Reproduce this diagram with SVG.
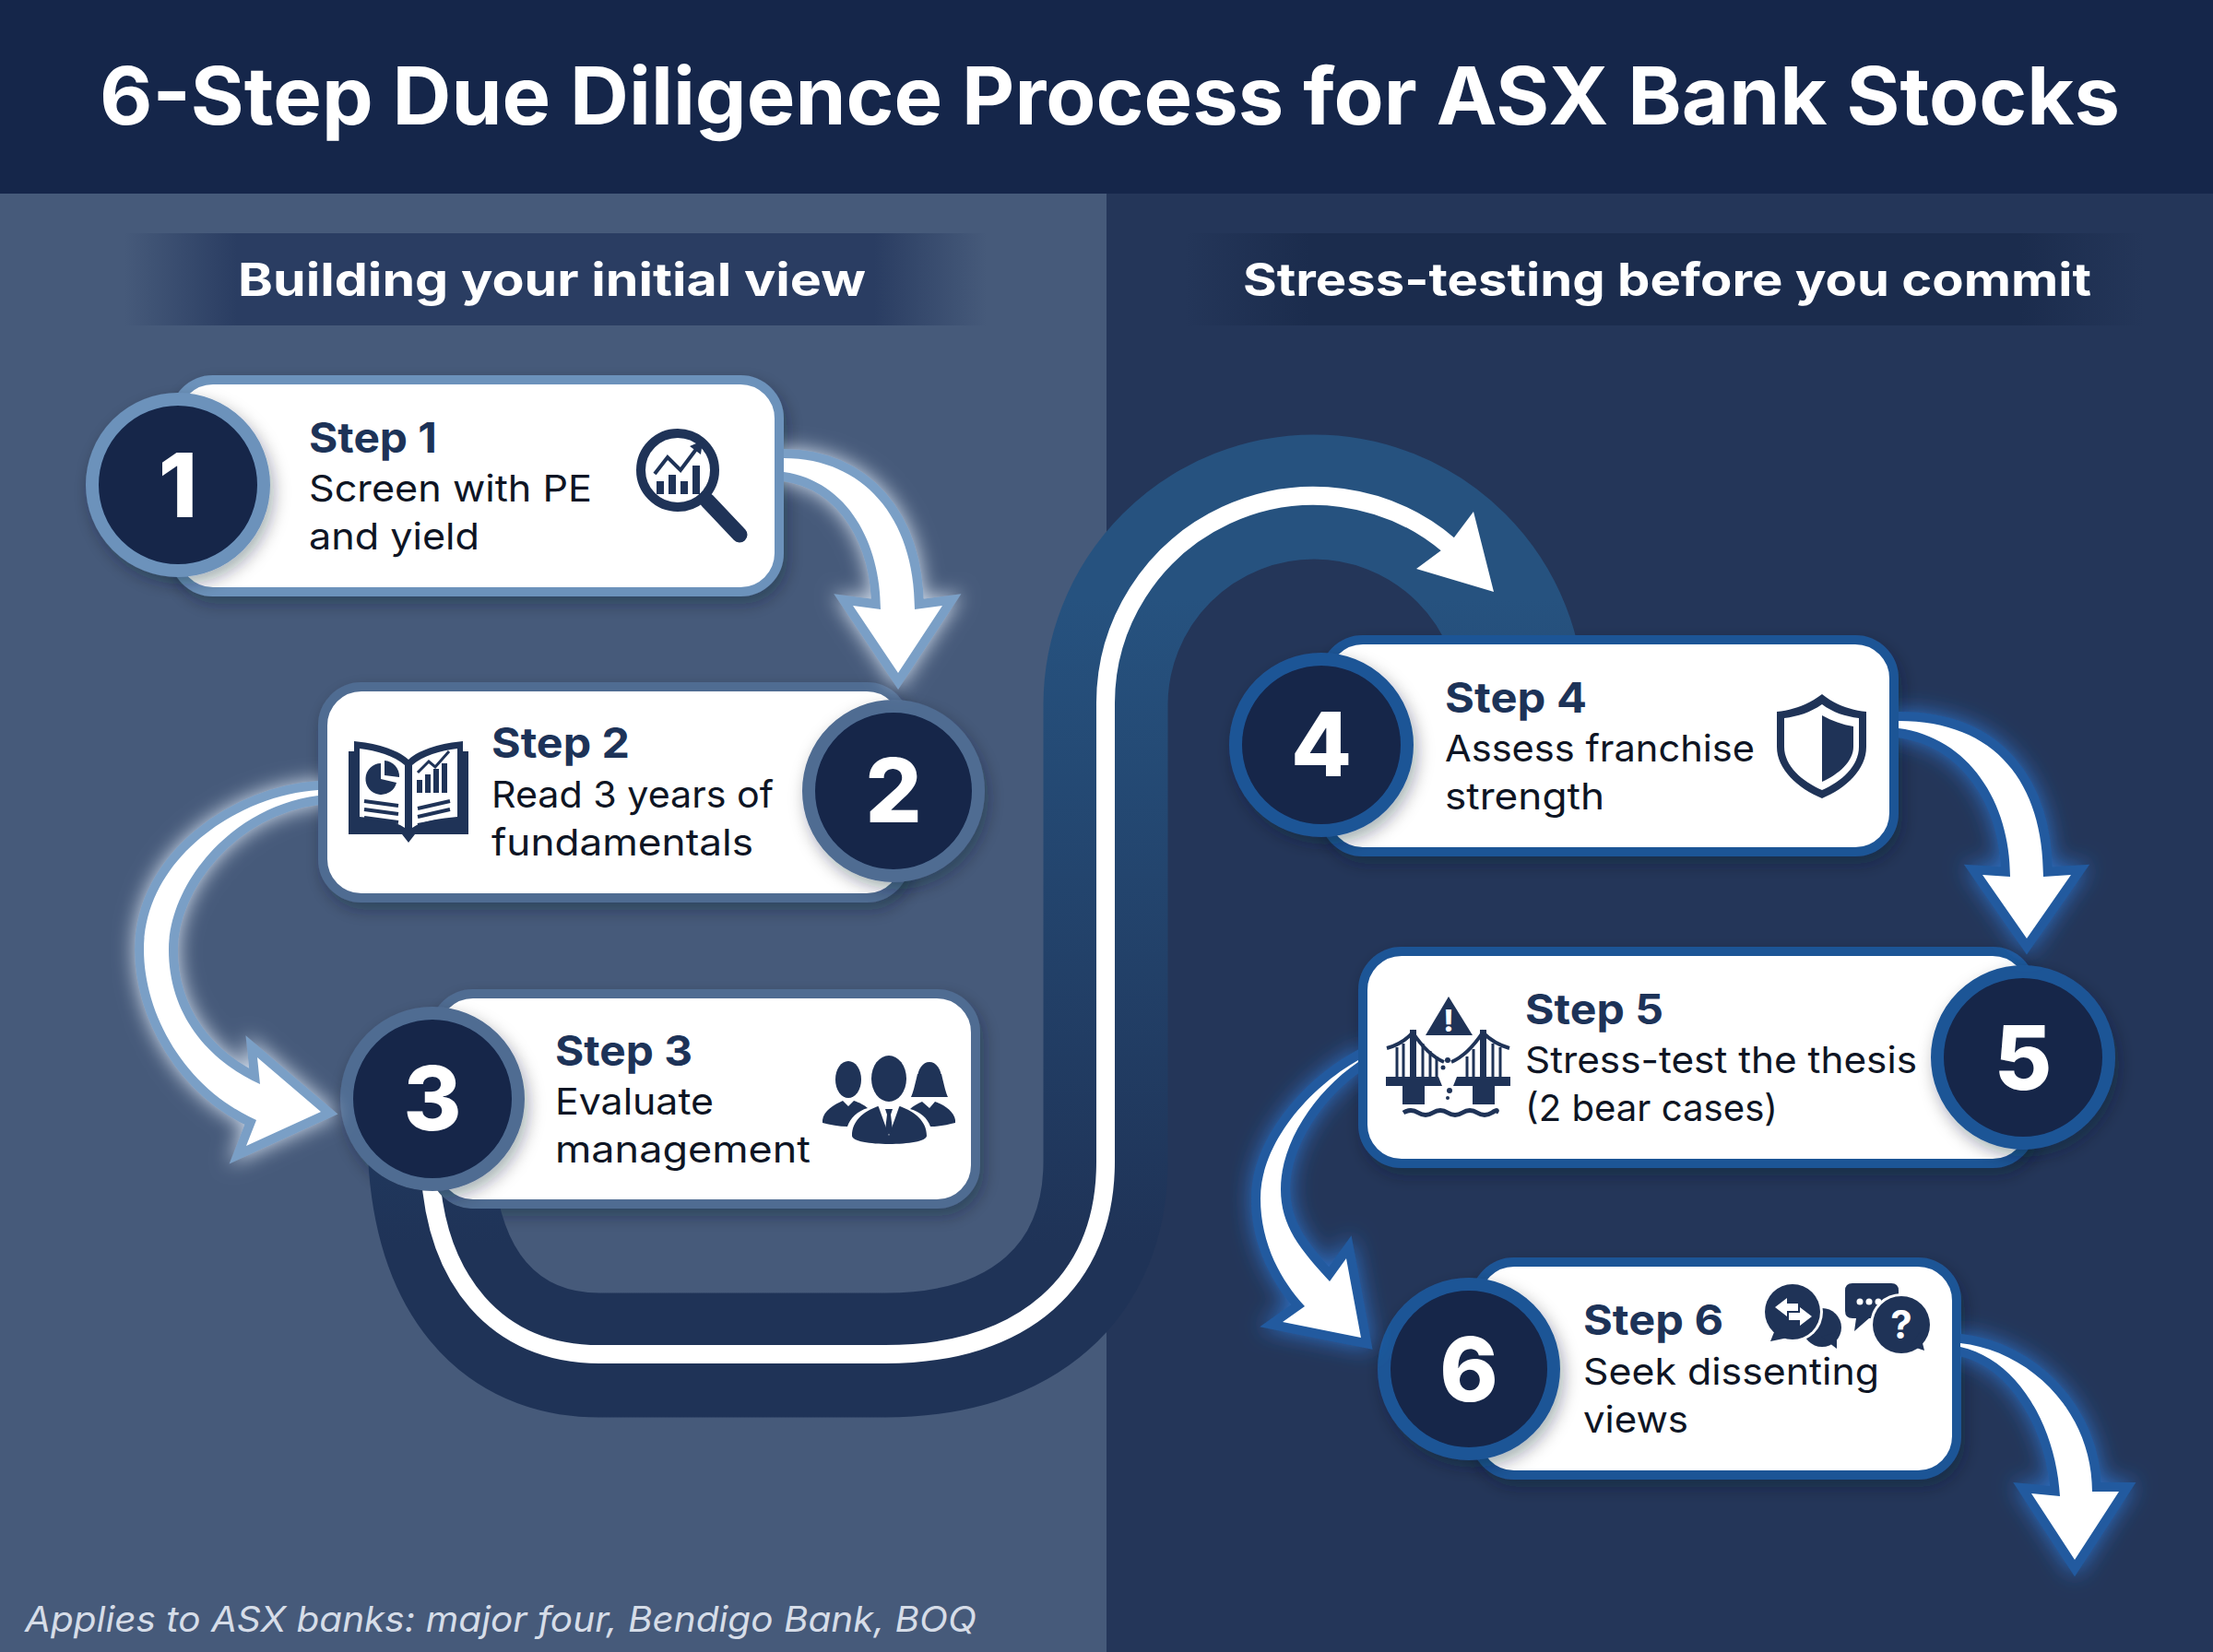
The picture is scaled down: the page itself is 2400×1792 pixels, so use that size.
<svg xmlns="http://www.w3.org/2000/svg" width="2400" height="1792" viewBox="0 0 2400 1792">
<style>
text{font-family:"Inter","Liberation Sans",sans-serif}
.title{font-size:86px;font-weight:700;fill:#fff}
.band{font-size:50px;font-weight:700;fill:#fff}
.st{font-size:45px;font-weight:700;fill:#1d3358}
.bd{font-size:40px;font-weight:400;fill:#0e1524}
.num{font-size:96px;font-weight:800;fill:#fff;text-anchor:middle}
.foot{font-size:38px;font-style:italic;fill:#d6dde8}
.card{fill:#fff;stroke-width:10;filter:url(#sh)}
.disc{fill:#14264a;stroke-width:14;filter:url(#sh)}
.c1{stroke:#6c92bb}.c2{stroke:#506c92}.c3{stroke:#1f5596}
.ic{fill:#1f3357}
.icl{fill:none;stroke:#1f3357}
.aw{fill:#fff;stroke-width:20;stroke-linejoin:miter;stroke-miterlimit:12;paint-order:stroke}
.al{stroke:#7a9fc6;filter:url(#gl)}
.ar{stroke:#205a9f;filter:url(#gr)}
</style>
<defs>
<filter id="sh" x="-20%" y="-20%" width="140%" height="150%"><feDropShadow dx="4" dy="8" stdDeviation="9" flood-color="#0a1428" flood-opacity=".35"/></filter>
<filter id="gl" x="-30%" y="-30%" width="160%" height="160%"><feDropShadow dx="0" dy="0" stdDeviation="11" flood-color="#e3eefb" flood-opacity=".9"/></filter>
<filter id="gr" x="-30%" y="-30%" width="160%" height="160%"><feDropShadow dx="0" dy="0" stdDeviation="12" flood-color="#2f7fe0" flood-opacity=".8"/></filter>
<linearGradient id="bl" x1="0" x2="1" y1="0" y2="0"><stop offset="0" stop-color="#2a3d62" stop-opacity="0"/><stop offset=".13" stop-color="#2a3d62"/><stop offset=".87" stop-color="#2a3d62"/><stop offset="1" stop-color="#2a3d62" stop-opacity="0"/></linearGradient>
<linearGradient id="br" x1="0" x2="1" y1="0" y2="0"><stop offset="0" stop-color="#1b2c4d" stop-opacity="0"/><stop offset=".13" stop-color="#1b2c4d"/><stop offset=".87" stop-color="#1b2c4d"/><stop offset="1" stop-color="#1b2c4d" stop-opacity="0"/></linearGradient>
<linearGradient id="trk" gradientUnits="userSpaceOnUse" x1="0" y1="1350" x2="0" y2="650"><stop offset="0" stop-color="#1f3357"/><stop offset="1" stop-color="#26527f"/></linearGradient>
<mask id="mS" maskUnits="userSpaceOnUse" x="0" y="0" width="2400" height="1792"><rect width="2400" height="1792" fill="#fff"/><rect x="466" y="1073" width="597" height="238" rx="46" fill="#000"/><circle cx="469" cy="1192" r="100" fill="#000"/><rect x="1431" y="689" width="628" height="240" rx="46" fill="#000"/></mask>
<clipPath id="k12"><rect x="850" y="400" width="400" height="400"/></clipPath>
<clipPath id="k23"><path d="M60 780H345V1100H420V1340H60Z"/></clipPath>
<clipPath id="k45"><rect x="2059" y="700" width="300" height="400"/></clipPath>
<clipPath id="k56"><path d="M1300 1100H1473V1290H1540V1520H1300Z"/></clipPath>
<clipPath id="k6"><rect x="2126" y="1400" width="270" height="390"/></clipPath>
</defs>

<g id="background">
<rect width="2400" height="1792" fill="#243659"/>
<rect x="0" y="210" width="1200" height="1582" fill="#465a7a"/>
<rect width="2400" height="210" fill="#15264a"/>
<text class="title" x="108" y="135" textLength="2191" lengthAdjust="spacingAndGlyphs">6-Step Due Diligence Process for ASX Bank Stocks</text>
<rect x="135" y="253" width="935" height="100" fill="url(#bl)"/>
<rect x="1285" y="253" width="1040" height="100" fill="url(#br)"/>
<text class="band" x="258" y="321" textLength="681" lengthAdjust="spacingAndGlyphs">Building your initial view</text>
<text class="band" x="1348" y="321" textLength="920" lengthAdjust="spacingAndGlyphs">Stress-testing before you commit</text>
<text class="foot" x="27" y="1770" textLength="1032" lengthAdjust="spacingAndGlyphs">Applies to ASX banks: major four, Bendigo Bank, BOQ</text>
</g>

<g id="node-1">
<rect class="card c1" x="189" y="412" width="656" height="230" rx="42"/>
<circle class="disc c1" cx="193" cy="526" r="93"/>
<text class="num" x="193" y="561">1</text>
<text class="st" x="335" y="491" textLength="139" lengthAdjust="spacingAndGlyphs">Step 1</text>
<text class="bd" x="335" y="544" textLength="307" lengthAdjust="spacingAndGlyphs">Screen with PE</text>
<text class="bd" x="335" y="596" textLength="185" lengthAdjust="spacingAndGlyphs">and yield</text>
<circle class="icl" cx="735" cy="510" r="40" stroke-width="10"/>
<path class="icl" d="M767 543L802 580" stroke-width="17" stroke-linecap="round"/>
<path class="ic" d="M712 522h8v14h-8zM725 515h8v21h-8zM738 522h8v14h-8zM751 505h8v31h-8z"/>
<path class="icl" d="M710 514L724 496L738 510L756 486" stroke-width="4"/>
<path class="ic" d="M748 484L762 478L760 493Z"/>
</g>

<g id="node-2">
<rect class="card c2" x="350" y="745" width="632" height="229" rx="42"/>
<circle class="disc c2" cx="969" cy="858" r="92"/>
<text class="num" x="969" y="892">2</text>
<text class="st" x="533" y="822" textLength="150" lengthAdjust="spacingAndGlyphs">Step 2</text>
<text class="bd" x="533" y="876" textLength="306" lengthAdjust="spacingAndGlyphs">Read 3 years of</text>
<text class="bd" x="533" y="928" textLength="284" lengthAdjust="spacingAndGlyphs">fundamentals</text>
<path class="ic" d="M384 804C405 806 430 812 443 824C456 812 481 806 502 804V815H508V905H450L443 914L436 905H378V815H384Z"/>
<path fill="#fff" d="M390 812C408 814 428 820 439 830V898C428 890 408 888 390 886ZM496 812C478 814 458 820 447 830V898C458 890 478 888 496 886Z"/>
<path class="ic" d="M413 828A17 17 0 1 0 430 849L413 845Z"/><path class="ic" d="M417 825A17 17 0 0 1 433 843L417 841Z"/>
<path class="ic" d="M452 860h6v-14h-6zM461 860h6v-20h-6zM470 860h6v-26h-6zM479 860h6v-32h-6z"/>
<path class="icl" d="M453 838L465 826L472 832L487 815" stroke-width="3"/>
<path class="icl" d="M395 869L432 874M395 878L432 883M395 887L432 892M453 877L488 869M453 886L488 878M453 895L475 891" stroke-width="4"/>
</g>

<g id="node-3">
<rect class="card c2" x="471" y="1078" width="587" height="228" rx="42"/>
<circle class="disc c2" cx="469" cy="1192" r="93"/>
<text class="num" x="469" y="1226">3</text>
<text class="st" x="602" y="1156" textLength="149" lengthAdjust="spacingAndGlyphs">Step 3</text>
<text class="bd" x="602" y="1209" textLength="172" lengthAdjust="spacingAndGlyphs">Evaluate</text>
<text class="bd" x="602" y="1261" textLength="277" lengthAdjust="spacingAndGlyphs">management</text>
<ellipse class="ic" cx="920" cy="1171" rx="14" ry="20"/>
<path class="ic" d="M892 1215C893 1205 905 1198 914 1194L920 1200L926 1194C932 1196 938 1199 941 1202C930 1205 922 1213 919 1222C910 1222 900 1220 892 1218Z"/>
<ellipse class="ic" cx="1008" cy="1170" rx="13" ry="18"/><path class="ic" d="M995 1165C992 1178 990 1186 988 1190H1028C1026 1186 1024 1178 1021 1165Z"/>
<path class="ic" d="M1036 1215C1035 1206 1024 1198 1014 1195L1008 1202L1000 1195C995 1197 990 1200 987 1203C998 1206 1006 1213 1009 1222C1018 1222 1028 1220 1036 1218Z"/>
<ellipse class="ic" cx="964" cy="1170" rx="19" ry="25"/>
<path class="ic" d="M924 1232C924 1216 936 1206 952 1200L958 1204H970L976 1200C992 1206 1005 1216 1005 1232C1005 1238 985 1241 964 1241C944 1241 924 1238 924 1232Z"/>
<path fill="#fff" d="M953 1201L964 1232L975 1201L970 1198H958Z"/>
<path class="ic" d="M960 1203H968L966 1209L968 1226L964 1231L960 1226L962 1209Z"/>
</g>

<g id="node-4">
<rect class="card c3" x="1436" y="694" width="618" height="230" rx="42"/>
<circle class="disc c3" cx="1433" cy="808" r="93"/>
<text class="num" x="1433" y="842">4</text>
<text class="st" x="1567" y="773" textLength="154" lengthAdjust="spacingAndGlyphs">Step 4</text>
<text class="bd" x="1567" y="826" textLength="336" lengthAdjust="spacingAndGlyphs">Assess franchise</text>
<text class="bd" x="1567" y="878" textLength="173" lengthAdjust="spacingAndGlyphs">strength</text>
<path class="ic" d="M1976 753C1960 765 1945 770 1927 772V810C1927 835 1950 855 1976 866C2002 855 2024 835 2024 810V772C2006 770 1991 765 1976 753Z"/>
<path fill="#fff" d="M1976 764C1963 773 1950 777 1935 779V810C1935 831 1955 848 1976 857C1997 848 2016 831 2016 810V779C2001 777 1988 773 1976 764Z"/>
<path class="ic" d="M1976 776C1987 782 1998 786 2010 788V810C2010 826 1994 840 1976 848Z"/>
</g>

<g id="node-5">
<rect class="card c3" x="1478" y="1032" width="725" height="230" rx="42"/>
<circle class="disc c3" cx="2194" cy="1147" r="93"/>
<text class="num" x="2194" y="1182">5</text>
<text class="st" x="1654" y="1111" textLength="150" lengthAdjust="spacingAndGlyphs">Step 5</text>
<text class="bd" x="1654" y="1164" textLength="425" lengthAdjust="spacingAndGlyphs">Stress-test the thesis</text>
<text class="bd" x="1654" y="1216" textLength="274" lengthAdjust="spacingAndGlyphs">(2 bear cases)</text>
<path class="ic" d="M1571 1081L1597 1123H1546Z"/>
<text x="1571" y="1119" font-size="32" font-weight="800" fill="#fff" text-anchor="middle">!</text>
<path class="ic" d="M1503 1168H1560L1564 1178H1545V1198H1521V1178H1503ZM1638 1168H1580L1576 1178H1597V1198H1621V1178H1638Z"/>
<path class="ic" d="M1529 1117h7v51h-7zM1605 1117h7v51h-7z"/>
<path class="icl" d="M1504 1137C1515 1134 1525 1128 1532 1120C1540 1132 1552 1146 1566 1152M1637 1137C1626 1134 1616 1128 1608 1120C1600 1132 1588 1146 1574 1152" stroke-width="4"/>
<path class="icl" d="M1515 1136V1168M1522 1132V1168M1543 1132V1168M1551 1140V1168M1558 1146V1168M1591 1146V1168M1598 1138V1168M1619 1132V1168M1627 1136V1168" stroke-width="3"/>
<circle class="ic" cx="1570" cy="1150" r="3"/><circle class="ic" cx="1565" cy="1158" r="2.5"/><circle class="ic" cx="1572" cy="1183" r="3"/><circle class="ic" cx="1570" cy="1191" r="2"/>
<path class="icl" d="M1522 1207q8-5 16 0t16 0t16 0t16 0t16 0t16 0t4 0" stroke-width="5"/>
</g>

<g id="node-6">
<rect class="card c3" x="1600" y="1369" width="522" height="231" rx="42"/>
<circle class="disc c3" cx="1593" cy="1485" r="92"/>
<text class="num" x="1593" y="1520">6</text>
<text class="st" x="1717" y="1448" textLength="152" lengthAdjust="spacingAndGlyphs">Step 6</text>
<text class="bd" x="1717" y="1502" textLength="321" lengthAdjust="spacingAndGlyphs">Seek dissenting</text>
<text class="bd" x="1717" y="1554" textLength="114" lengthAdjust="spacingAndGlyphs">views</text>
<circle class="ic" cx="1976" cy="1440" r="21"/><path class="ic" d="M1975 1450L1992 1463L1992 1445Z"/>
<circle cx="1944" cy="1423" r="33" fill="#fff"/>
<circle class="ic" cx="1944" cy="1423" r="30"/><path class="ic" d="M1926 1440L1920 1455L1944 1450Z"/>
<path fill="#fff" d="M1925 1418L1938 1408V1414H1950V1422H1938V1428ZM1965 1428L1952 1418V1424H1940V1432H1952V1438Z"/>
<path class="ic" d="M2009 1392H2051Q2059 1392 2059 1400V1422Q2059 1430 2051 1430H2027L2011 1444L2013 1430H2009Q2001 1430 2001 1422V1400Q2001 1392 2009 1392Z"/>
<circle cx="2017" cy="1412" r="3.5" fill="#fff"/><circle cx="2027" cy="1412" r="3.5" fill="#fff"/><circle cx="2037" cy="1412" r="3.5" fill="#fff"/>
<circle cx="2062" cy="1437" r="34" fill="#fff"/>
<circle class="ic" cx="2062" cy="1437" r="31"/><path class="ic" d="M2072 1460L2087 1465L2082 1445Z"/>
<text x="2062" y="1452" font-size="42" font-weight="700" fill="#fff" text-anchor="middle">?</text>
</g>

<g id="connectors">
<g mask="url(#mS)">
<path fill="none" stroke="url(#trk)" stroke-width="135" d="M466 1240C470 1390 540 1470 650 1470H960C1110 1470 1199 1390 1199 1260V765A226 226 0 0 1 1651 765"/>
<path fill="none" stroke="#fff" stroke-width="20" d="M466 1260C470 1390 540 1469 650 1469H960C1110 1469 1199 1390 1199 1260V765A226 225 0 0 1 1572 592"/>
</g>
<path fill="#fff" d="M1598 555L1620 642L1536 617L1563 597L1577 583Z"/>
<g clip-path="url(#k12)"><path class="aw al" d="M850 497C935 497 992 560 992 661L1022 657L974 730L925 657L955 661C955 590 920 522 850 512Z"/></g>
<g clip-path="url(#k23)"><path class="aw al" d="M345 857C260 862 156 930 156 1030C156 1100 200 1180 278 1215L267 1243L348 1206L279 1147L282 1176C225 1150 183 1100 183 1030C183 960 250 875 345 863Z"/></g>
<g clip-path="url(#k45)"><path class="aw ar" d="M2059 782C2165 782 2216 850 2216 951L2246 949L2198 1018L2150 949L2180 951C2180 870 2135 800 2059 790Z"/></g>
<g clip-path="url(#k56)"><path class="aw ar" d="M1473 1150C1420 1180 1367 1240 1367 1300C1367 1350 1390 1390 1415 1417L1391 1434L1476 1451L1460 1365L1442 1390C1410 1355 1389 1330 1389 1290C1389 1240 1425 1185 1473 1152Z"/></g>
<g clip-path="url(#k6)"><path class="aw ar" d="M2126 1457C2200 1465 2269 1530 2269 1618L2298 1618L2250 1692L2203 1620L2234 1623C2230 1550 2190 1475 2126 1461Z"/></g>
</g>
</svg>
